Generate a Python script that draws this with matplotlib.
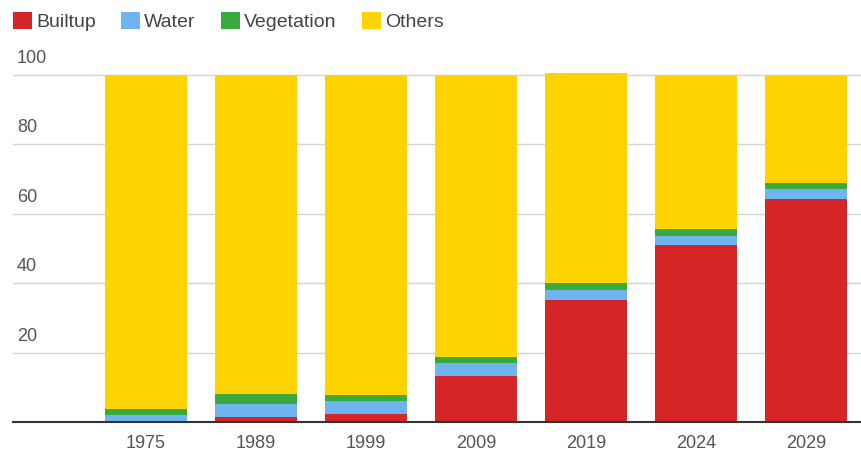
import numpy as np
import matplotlib
matplotlib.use("Agg")
import matplotlib.pyplot as plt
from matplotlib.patches import Patch
from matplotlib.transforms import blended_transform_factory

plt.rcParams['font.family'] = ['Liberation Sans', 'DejaVu Sans']

years = ['1975', '1989', '1999', '2009', '2019', '2024', '2029']
builtup = [0.0, 1.3, 2.4, 13.3, 35.0, 50.9, 64.1]
water = [2.1, 4.0, 3.6, 3.7, 3.0, 2.6, 2.9]
vegetation = [1.5, 2.9, 1.7, 1.7, 2.1, 2.2, 1.7]
others = [96.4, 91.8, 92.3, 81.3, 60.3, 44.3, 31.3]

series = [('Builtup', builtup, '#d42626'),
          ('Water', water, '#6fb4f0'),
          ('Vegetation', vegetation, '#3aaa3e'),
          ('Others', others, '#ffd300')]

fig = plt.figure(figsize=(8.62, 4.51), dpi=100)
ax = fig.add_axes([13 / 862, 1 - 422 / 451, 849 / 862, 382 / 451])

x = np.arange(len(years))
bottom = np.zeros(len(years))
for name, vals, col in series:
    ax.bar(x, vals, bottom=bottom, width=0.74, color=col, label=name, linewidth=0)
    bottom += np.array(vals)

ax.set_xlim(-1.21, 6.51)
ax.set_ylim(0, 110)
ax.set_xticks(x)
ax.set_xticklabels(years, fontsize=13, color='#555555')
ax.tick_params(axis='x', length=0, pad=9)
ax.set_yticks([20, 40, 60, 80, 100])
ax.tick_params(axis='y', length=0, labelleft=False)
ax.grid(axis='y', color='#d4d4d4', linewidth=1)
ax.set_axisbelow(True)
for s in ['top', 'right', 'left']:
    ax.spines[s].set_visible(False)
ax.spines['bottom'].set_color('#333333')
ax.spines['bottom'].set_linewidth(1.5)

# y labels sit above their gridlines, inside the plot area
trans = blended_transform_factory(ax.transAxes, ax.transData)
for v in [20, 40, 60, 80, 100]:
    ax.text(4 / 849, v + 2.3, str(v), transform=trans, fontsize=13,
            color='#555555', ha='left', va='bottom')

handles = [Patch(facecolor=c, label=n) for n, _, c in series]
fig.legend(handles=handles, loc='upper left', bbox_to_anchor=(-1 / 862, 1 + 2 / 451),
           ncol=4, frameon=False, fontsize=14, handlelength=1.0, handleheight=1.0,
           handletextpad=0.2, columnspacing=1.29, borderpad=0.2,
           labelcolor='#444444')

fig.savefig('out.png', dpi=100)
